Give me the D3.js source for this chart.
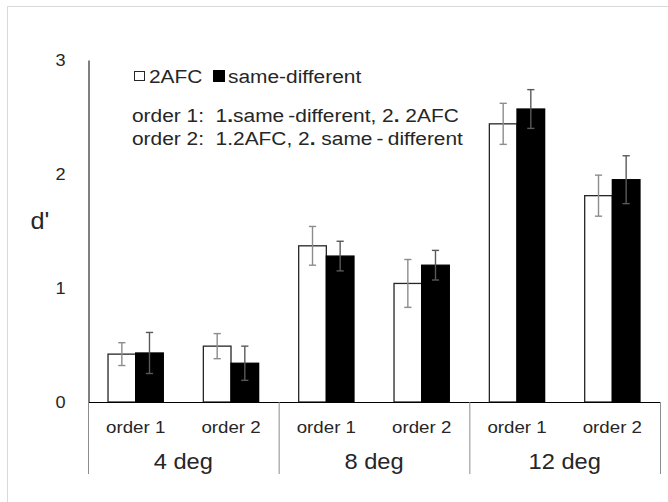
<!DOCTYPE html>
<html>
<head>
<meta charset="utf-8">
<script src="https://cdn.jsdelivr.net/npm/d3@7"></script>
<style>
  body { margin: 0; background: #fff; }
  text { font-family: "Liberation Sans", Arial, sans-serif; fill: #262626; }
</style>
</head>
<body>
<svg id="chart" width="668" height="502"></svg>
<script>
// data
const groups = ['4 deg', '8 deg', '12 deg']
const orders = ['order 1', 'order 2']
const series = ['2AFC', 'same-different']
const afc = [0.42, 0.49, 1.37, 1.04, 2.44, 1.81]
const afcErr = [0.10, 0.11, 0.17, 0.21, 0.18, 0.18]
const sameDiff = [0.43, 0.34, 1.28, 1.20, 2.57, 1.95]
const sameDiffErr = [0.18, 0.15, 0.13, 0.13, 0.17, 0.21]
const yTicks = [0, 1, 2, 3]

let cats = []
groups.forEach((g) => orders.forEach((o) => cats.push(g + '|' + o)))

let rows = cats.map((c, i) => ({
  cat: c,
  vals: [
    {s: series[0], v: afc[i], e: afcErr[i]},
    {s: series[1], v: sameDiff[i], e: sameDiffErr[i]}
  ]
}))

const svg = d3.select('#chart')
const plot = {left: 88, right: 660, top: 60, base: 402, bottom: 474}
// the source picture is slightly wider than tall, text included
const sx = 1.1

// place a text at (x, y) and widen it a little
function stretch (sel, x, y) {
  return sel.attr('x', 0).attr('y', 0)
    .attr('transform', (d, i) => {
      let px = typeof x === 'function' ? x(d, i) : x
      let py = typeof y === 'function' ? y(d, i) : y
      return `translate(${px},${py}) scale(${sx},1)`
    })
}

// outer frame
svg.append('rect')
  .attr('x', 7.5).attr('y', 6.5)
  .attr('width', 700).attr('height', 600)
  .attr('fill', 'none')
  .attr('stroke', '#d9d9d9')

let x = d3.scaleBand()
  .domain(cats)
  .range([plot.left, plot.right])
  .paddingInner(0.42)
  .paddingOuter(0.21)

let xs = d3.scaleBand()
  .domain(series)
  .range([0, x.bandwidth()])

let xg = d3.scaleBand()
  .domain(groups)
  .range([plot.left, plot.right])

let y = d3.scaleLinear()
  .domain([0, 3])
  .range([plot.base, plot.top])

// y axis
let yAxis = svg.append('g')
  .attr('transform', `translate(${plot.left + 0.5},0)`)
  .call(d3.axisLeft(y).tickValues(yTicks).tickFormat(d3.format('d')).tickSize(0))
yAxis.select('.domain').attr('stroke', '#000')
yAxis.selectAll('.tick text')
  .style('font-size', '16.5px')
  .attr('fill', '#262626')
  .attr('dy', null)
  .attr('dominant-baseline', 'central')
  .call(stretch, -23, 0)

svg.append('text')
  .attr('text-anchor', 'middle')
  .attr('dominant-baseline', 'central')
  .style('font-size', '23px')
  .text("d'")
  .call(stretch, 40, 221)

// bars
let g = svg.selectAll('.cat')
  .data(rows)
  .join('g')
  .attr('class', 'cat')
  .attr('transform', (d) => `translate(${x(d.cat)},0)`)

g.selectAll('rect')
  .data((d) => d.vals)
  .join('rect')
  .attr('x', (d) => xs(d.s))
  .attr('y', (d) => y(d.v))
  .attr('width', xs.bandwidth())
  .attr('height', (d) => y(0) - y(d.v))
  .attr('fill', (d) => d.s === series[0] ? '#fff' : '#000')
  .attr('stroke', (d) => d.s === series[0] ? '#262626' : '#000')
  .attr('stroke-width', 1.3)

// error bars
let eb = g.selectAll('.err')
  .data((d) => d.vals)
  .join('g')
  .attr('class', 'err')
  .attr('stroke', (d) => d.s === series[0] ? '#8c8c8c' : '#595959')
  .attr('stroke-width', 1.4)
  .attr('transform', (d) => `translate(${xs(d.s) + xs.bandwidth() / 2},0)`)

eb.append('line')
  .attr('y1', (d) => y(d.v + d.e))
  .attr('y2', (d) => y(d.v - d.e))
eb.append('line')
  .attr('x1', -3.6).attr('x2', 3.6)
  .attr('y1', (d) => y(d.v + d.e)).attr('y2', (d) => y(d.v + d.e))
eb.append('line')
  .attr('x1', -3.6).attr('x2', 3.6)
  .attr('y1', (d) => y(d.v - d.e)).attr('y2', (d) => y(d.v - d.e))

// x axis baseline and group dividers
svg.append('line')
  .attr('x1', plot.left).attr('x2', plot.right)
  .attr('y1', plot.base + 0.5).attr('y2', plot.base + 0.5)
  .attr('stroke', '#000')

let dividers = groups.map((d) => xg(d)).concat([plot.right])
svg.selectAll('.divider')
  .data(dividers)
  .join('line')
  .attr('class', 'divider')
  .attr('x1', (d) => d + 0.5).attr('x2', (d) => d + 0.5)
  .attr('y1', plot.base).attr('y2', plot.bottom)
  .attr('stroke', '#8c8c8c')

svg.selectAll('.catlabel')
  .data(cats)
  .join('text')
  .attr('class', 'catlabel')
  .attr('text-anchor', 'middle')
  .attr('dominant-baseline', 'central')
  .style('font-size', '17px')
  .text((d) => d.split('|')[1])
  .call(stretch, (d) => x(d) + x.bandwidth() / 2, 427)

svg.selectAll('.grouplabel')
  .data(groups)
  .join('text')
  .attr('class', 'grouplabel')
  .attr('text-anchor', 'middle')
  .attr('dominant-baseline', 'central')
  .style('font-size', '21.5px')
  .text((d) => d)
  .call(stretch, (d) => xg(d) + xg.bandwidth() / 2, 462)

// legend
let lg = svg.append('g').attr('transform', 'translate(0,76)')
lg.append('rect')
  .attr('x', 134.5).attr('y', -4.5)
  .attr('width', 10).attr('height', 9)
  .attr('fill', '#fff').attr('stroke', '#262626')
lg.append('text')
  .attr('dominant-baseline', 'central')
  .style('font-size', '19px')
  .text(series[0])
  .call(stretch, 149, 0)
lg.append('rect')
  .attr('x', 213).attr('y', -6)
  .attr('width', 12).attr('height', 12)
  .attr('fill', '#000')
lg.append('text')
  .attr('dominant-baseline', 'central')
  .style('font-size', '19px')
  .text(series[1])
  .call(stretch, 228, 0)

// order notes
let notes = [
  [['order 1:\u00a0\u00a01', false], ['.', true], ['same', false], ['\u2009-different, 2', false], ['.', true], [' 2AFC', false]],
  [['order 2:\u00a0\u00a01.2AFC, 2', false], ['.', true], [' same', false], ['\u2009-\u2009different', false]]
]
notes.forEach((parts, i) => {
  let t = svg.append('text')
    .attr('dominant-baseline', 'central')
    .style('font-size', '19px')
    .call(stretch, 132, 115 + i * 23)
  parts.forEach((p) => {
    t.append('tspan')
      .style('font-weight', p[1] ? 'bold' : 'normal')
      .text(p[0])
  })
})
</script>
</body>
</html>
